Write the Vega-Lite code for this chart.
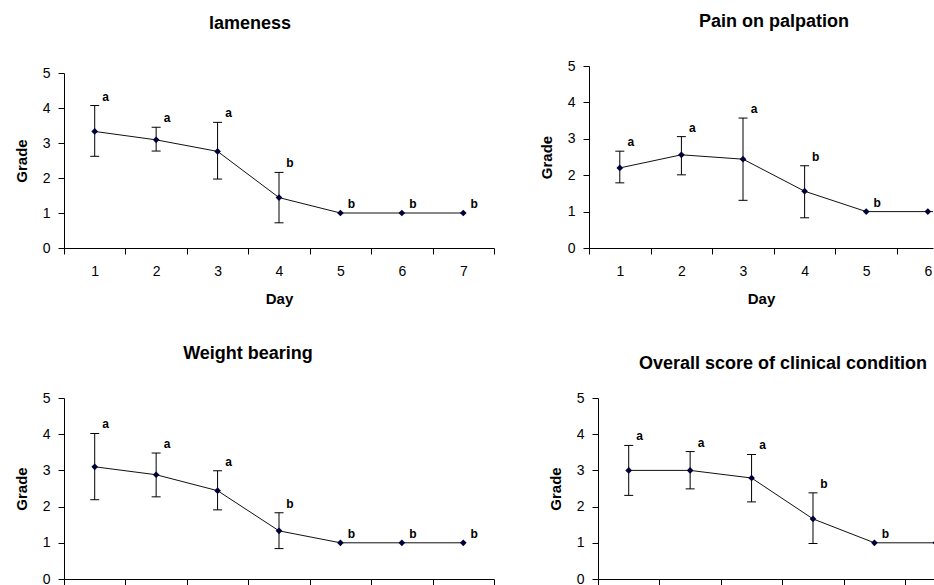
{
  "$schema": "https://vega.github.io/schema/vega-lite/v6.json",
  "padding": {"left": 14, "top": 13, "right": 0, "bottom": 0},
  "background": "#ffffff",
  "datasets": {
    "scores": [
      {"panel": "lameness", "day": 1, "mean": 3.33, "lo": 2.62, "hi": 4.07, "letter": "a"},
      {"panel": "lameness", "day": 2, "mean": 3.09, "lo": 2.77, "hi": 3.45, "letter": "a"},
      {"panel": "lameness", "day": 3, "mean": 2.76, "lo": 1.97, "hi": 3.59, "letter": "a"},
      {"panel": "lameness", "day": 4, "mean": 1.44, "lo": 0.72, "hi": 2.16, "letter": "b"},
      {"panel": "lameness", "day": 5, "mean": 1.0, "lo": 1.0, "hi": 1.0, "letter": "b"},
      {"panel": "lameness", "day": 6, "mean": 1.0, "lo": 1.0, "hi": 1.0, "letter": "b"},
      {"panel": "lameness", "day": 7, "mean": 1.0, "lo": 1.0, "hi": 1.0, "letter": "b"},
      {"panel": "pain", "day": 1, "mean": 2.2, "lo": 1.79, "hi": 2.66, "letter": "a"},
      {"panel": "pain", "day": 2, "mean": 2.56, "lo": 2.01, "hi": 3.06, "letter": "a"},
      {"panel": "pain", "day": 3, "mean": 2.44, "lo": 1.31, "hi": 3.57, "letter": "a"},
      {"panel": "pain", "day": 4, "mean": 1.56, "lo": 0.83, "hi": 2.26, "letter": "b"},
      {"panel": "pain", "day": 5, "mean": 1.0, "lo": 1.0, "hi": 1.0, "letter": "b"},
      {"panel": "pain", "day": 6, "mean": 1.0, "lo": 1.0, "hi": 1.0, "letter": "b"},
      {"panel": "pain", "day": 7, "mean": 1.0, "lo": 1.0, "hi": 1.0, "letter": "b"},
      {"panel": "weight", "day": 1, "mean": 3.1, "lo": 2.19, "hi": 4.02, "letter": "a"},
      {"panel": "weight", "day": 2, "mean": 2.88, "lo": 2.27, "hi": 3.48, "letter": "a"},
      {"panel": "weight", "day": 3, "mean": 2.44, "lo": 1.91, "hi": 2.99, "letter": "a"},
      {"panel": "weight", "day": 4, "mean": 1.33, "lo": 0.84, "hi": 1.83, "letter": "b"},
      {"panel": "weight", "day": 5, "mean": 1.0, "lo": 1.0, "hi": 1.0, "letter": "b"},
      {"panel": "weight", "day": 6, "mean": 1.0, "lo": 1.0, "hi": 1.0, "letter": "b"},
      {"panel": "weight", "day": 7, "mean": 1.0, "lo": 1.0, "hi": 1.0, "letter": "b"},
      {"panel": "overall", "day": 1, "mean": 3.0, "lo": 2.31, "hi": 3.69, "letter": "a"},
      {"panel": "overall", "day": 2, "mean": 3.0, "lo": 2.49, "hi": 3.52, "letter": "a"},
      {"panel": "overall", "day": 3, "mean": 2.79, "lo": 2.13, "hi": 3.44, "letter": "a"},
      {"panel": "overall", "day": 4, "mean": 1.66, "lo": 0.98, "hi": 2.38, "letter": "b"},
      {"panel": "overall", "day": 5, "mean": 1.0, "lo": 1.0, "hi": 1.0, "letter": "b"},
      {"panel": "overall", "day": 6, "mean": 1.0, "lo": 1.0, "hi": 1.0, "letter": "b"},
      {"panel": "overall", "day": 7, "mean": 1.0, "lo": 1.0, "hi": 1.0, "letter": "b"}
    ]
  },
  "config": {
    "view": {"stroke": null},
    "font": "Liberation Sans",
    "axis": {
      "grid": false,
      "domainColor": "#000000",
      "tickColor": "#000000",
      "labelColor": "#000000",
      "labelFont": "Liberation Sans",
      "labelFontSize": 14,
      "titleFont": "Liberation Sans",
      "titleFontSize": 15,
      "titleFontWeight": "bold",
      "titleColor": "#000000",
      "tickSize": 6,
      "labelFlush": false,
      "labelOverlap": false,
      "labelBound": false
    },
    "axisY": {"labelPadding": 8, "titlePadding": 13},
    "axisX": {"labelPadding": 10, "titlePadding": 13},
    "title": {"font": "Liberation Sans", "fontSize": 18, "fontWeight": "bold", "color": "#000000", "frame": "group", "anchor": "middle"}
  },
  "vconcat": [
    {
      "hconcat": [
        {
          "title": {"text": "lameness", "offset": 33, "dx": -29},
          "width": 430,
          "height": 182,
          "data": {"name": "scores"},
          "transform": [{"filter": "datum.panel == 'lameness'"}],
          "encoding": {
            "x": {"field": "day", "type": "quantitative", "title": "Day",
              "scale": {"domain": [0.5, 7.5], "nice": false, "zero": false},
              "axis": {"values": [0.5, 1.5, 2.5, 3.5, 4.5, 5.5, 6.5, 7.5], "labelOffset": 30.7, "labelExpr": "datum.value < 7 ? format(datum.value + 0.5, 'd') : ''"}}
          },
          "layer": [
            {"transform": [{"filter": "datum.hi > datum.lo"}], "mark": {"type": "rule", "color": "#000000", "strokeWidth": 1},
             "encoding": {"y": {"field": "lo", "type": "quantitative", "title": "Grade", "scale": {"domain": [0, 5], "nice": false, "range": [182, 7]}, "axis": {"values": [0, 1, 2, 3, 4, 5]}}, "y2": {"field": "hi"}}},
            {"transform": [{"filter": "datum.hi > datum.lo"}], "mark": {"type": "tick", "orient": "horizontal", "size": 9, "thickness": 1, "color": "#000000", "opacity": 1},
             "encoding": {"y": {"field": "hi", "type": "quantitative", "title": "Grade", "scale": {"domain": [0, 5], "nice": false, "range": [182, 7]}, "axis": {"values": [0, 1, 2, 3, 4, 5]}}}},
            {"transform": [{"filter": "datum.hi > datum.lo"}], "mark": {"type": "tick", "orient": "horizontal", "size": 9, "thickness": 1, "color": "#000000", "opacity": 1},
             "encoding": {"y": {"field": "lo", "type": "quantitative", "title": "Grade", "scale": {"domain": [0, 5], "nice": false, "range": [182, 7]}, "axis": {"values": [0, 1, 2, 3, 4, 5]}}}},
            {"mark": {"type": "line", "color": "#111111", "strokeWidth": 1},
             "encoding": {"y": {"field": "mean", "type": "quantitative", "title": "Grade", "scale": {"domain": [0, 5], "nice": false, "range": [182, 7]}, "axis": {"values": [0, 1, 2, 3, 4, 5]}}}},
            {"mark": {"type": "point", "shape": "diamond", "filled": true, "color": "#00003a", "size": 45, "opacity": 1},
             "encoding": {"y": {"field": "mean", "type": "quantitative", "title": "Grade", "scale": {"domain": [0, 5], "nice": false, "range": [182, 7]}, "axis": {"values": [0, 1, 2, 3, 4, 5]}}}},
            {"mark": {"type": "text", "dx": 11, "dy": -9, "fontWeight": "bold", "fontSize": 12, "color": "#000000"},
             "encoding": {"y": {"field": "hi", "type": "quantitative", "title": "Grade", "scale": {"domain": [0, 5], "nice": false, "range": [182, 7]}, "axis": {"values": [0, 1, 2, 3, 4, 5]}}, "text": {"field": "letter"}}}
          ]
        },
        {
          "title": {"text": "Pain on palpation", "offset": 28, "dx": 13},
          "width": 344,
          "height": 182,
          "data": {"name": "scores"},
          "transform": [{"filter": "datum.panel == 'pain'"}],
          "encoding": {
            "x": {"field": "day", "type": "quantitative", "title": "Day",
              "scale": {"domain": [0.5, 6.084], "nice": false, "zero": false},
              "axis": {"values": [0.5, 1.5, 2.5, 3.5, 4.5, 5.5], "labelOffset": 30.8, "labelExpr": "format(datum.value + 0.5, 'd')"}}
          },
          "layer": [
            {"transform": [{"filter": "datum.hi > datum.lo"}], "mark": {"type": "rule", "color": "#000000", "strokeWidth": 1, "clip": true},
             "encoding": {"y": {"field": "lo", "type": "quantitative", "title": "Grade", "scale": {"domain": [0, 5], "nice": false}, "axis": {"values": [0, 1, 2, 3, 4, 5]}}, "y2": {"field": "hi"}}},
            {"transform": [{"filter": "datum.hi > datum.lo"}], "mark": {"type": "tick", "orient": "horizontal", "size": 9, "thickness": 1, "color": "#000000", "opacity": 1, "clip": true},
             "encoding": {"y": {"field": "hi", "type": "quantitative", "title": "Grade", "scale": {"domain": [0, 5], "nice": false}, "axis": {"values": [0, 1, 2, 3, 4, 5]}}}},
            {"transform": [{"filter": "datum.hi > datum.lo"}], "mark": {"type": "tick", "orient": "horizontal", "size": 9, "thickness": 1, "color": "#000000", "opacity": 1, "clip": true},
             "encoding": {"y": {"field": "lo", "type": "quantitative", "title": "Grade", "scale": {"domain": [0, 5], "nice": false}, "axis": {"values": [0, 1, 2, 3, 4, 5]}}}},
            {"mark": {"type": "line", "color": "#111111", "strokeWidth": 1, "clip": true},
             "encoding": {"y": {"field": "mean", "type": "quantitative", "title": "Grade", "scale": {"domain": [0, 5], "nice": false}, "axis": {"values": [0, 1, 2, 3, 4, 5]}}}},
            {"mark": {"type": "point", "shape": "diamond", "filled": true, "color": "#00003a", "size": 45, "opacity": 1, "clip": true},
             "encoding": {"y": {"field": "mean", "type": "quantitative", "title": "Grade", "scale": {"domain": [0, 5], "nice": false}, "axis": {"values": [0, 1, 2, 3, 4, 5]}}}},
            {"mark": {"type": "text", "dx": 11, "dy": -9, "fontWeight": "bold", "fontSize": 12, "color": "#000000", "clip": true},
             "encoding": {"y": {"field": "hi", "type": "quantitative", "title": "Grade", "scale": {"domain": [0, 5], "nice": false}, "axis": {"values": [0, 1, 2, 3, 4, 5]}}, "text": {"field": "letter"}}}
          ]
        }
      ],
      "spacing": 14
    },
    {
      "bounds": "flush",
      "hconcat": [
        {
          "title": {"text": "Weight bearing", "offset": 28, "dx": -31},
          "width": 430,
          "height": 181,
          "data": {"name": "scores"},
          "transform": [{"filter": "datum.panel == 'weight'"}],
          "encoding": {
            "x": {"field": "day", "type": "quantitative", "title": null,
              "scale": {"domain": [0.5, 7.5], "nice": false, "zero": false},
              "axis": {"values": [0.5, 1.5, 2.5, 3.5, 4.5, 5.5, 6.5, 7.5], "labels": false}}
          },
          "layer": [
            {"transform": [{"filter": "datum.hi > datum.lo"}], "mark": {"type": "rule", "color": "#000000", "strokeWidth": 1},
             "encoding": {"y": {"field": "lo", "type": "quantitative", "title": "Grade", "scale": {"domain": [0, 5], "nice": false}, "axis": {"values": [0, 1, 2, 3, 4, 5]}}, "y2": {"field": "hi"}}},
            {"transform": [{"filter": "datum.hi > datum.lo"}], "mark": {"type": "tick", "orient": "horizontal", "size": 9, "thickness": 1, "color": "#000000", "opacity": 1},
             "encoding": {"y": {"field": "hi", "type": "quantitative", "title": "Grade", "scale": {"domain": [0, 5], "nice": false}, "axis": {"values": [0, 1, 2, 3, 4, 5]}}}},
            {"transform": [{"filter": "datum.hi > datum.lo"}], "mark": {"type": "tick", "orient": "horizontal", "size": 9, "thickness": 1, "color": "#000000", "opacity": 1},
             "encoding": {"y": {"field": "lo", "type": "quantitative", "title": "Grade", "scale": {"domain": [0, 5], "nice": false}, "axis": {"values": [0, 1, 2, 3, 4, 5]}}}},
            {"mark": {"type": "line", "color": "#111111", "strokeWidth": 1},
             "encoding": {"y": {"field": "mean", "type": "quantitative", "title": "Grade", "scale": {"domain": [0, 5], "nice": false}, "axis": {"values": [0, 1, 2, 3, 4, 5]}}}},
            {"mark": {"type": "point", "shape": "diamond", "filled": true, "color": "#00003a", "size": 45, "opacity": 1},
             "encoding": {"y": {"field": "mean", "type": "quantitative", "title": "Grade", "scale": {"domain": [0, 5], "nice": false}, "axis": {"values": [0, 1, 2, 3, 4, 5]}}}},
            {"mark": {"type": "text", "dx": 11, "dy": -9, "fontWeight": "bold", "fontSize": 12, "color": "#000000"},
             "encoding": {"y": {"field": "hi", "type": "quantitative", "title": "Grade", "scale": {"domain": [0, 5], "nice": false}, "axis": {"values": [0, 1, 2, 3, 4, 5]}}, "text": {"field": "letter"}}}
          ]
        },
        {
          "title": {"text": "Overall score of clinical condition", "offset": 18, "dx": 17},
          "width": 336,
          "height": 181,
          "data": {"name": "scores"},
          "transform": [{"filter": "datum.panel == 'overall'"}],
          "encoding": {
            "x": {"field": "day", "type": "quantitative", "title": null,
              "scale": {"domain": [0.5, 5.97], "nice": false, "zero": false},
              "axis": {"values": [0.5, 1.5, 2.5, 3.5, 4.5, 5.5], "labels": false}}
          },
          "layer": [
            {"transform": [{"filter": "datum.hi > datum.lo"}], "mark": {"type": "rule", "color": "#000000", "strokeWidth": 1, "clip": true},
             "encoding": {"y": {"field": "lo", "type": "quantitative", "title": "Grade", "scale": {"domain": [0, 5], "nice": false}, "axis": {"values": [0, 1, 2, 3, 4, 5]}}, "y2": {"field": "hi"}}},
            {"transform": [{"filter": "datum.hi > datum.lo"}], "mark": {"type": "tick", "orient": "horizontal", "size": 9, "thickness": 1, "color": "#000000", "opacity": 1, "clip": true},
             "encoding": {"y": {"field": "hi", "type": "quantitative", "title": "Grade", "scale": {"domain": [0, 5], "nice": false}, "axis": {"values": [0, 1, 2, 3, 4, 5]}}}},
            {"transform": [{"filter": "datum.hi > datum.lo"}], "mark": {"type": "tick", "orient": "horizontal", "size": 9, "thickness": 1, "color": "#000000", "opacity": 1, "clip": true},
             "encoding": {"y": {"field": "lo", "type": "quantitative", "title": "Grade", "scale": {"domain": [0, 5], "nice": false}, "axis": {"values": [0, 1, 2, 3, 4, 5]}}}},
            {"mark": {"type": "line", "color": "#111111", "strokeWidth": 1, "clip": true},
             "encoding": {"y": {"field": "mean", "type": "quantitative", "title": "Grade", "scale": {"domain": [0, 5], "nice": false}, "axis": {"values": [0, 1, 2, 3, 4, 5]}}}},
            {"mark": {"type": "point", "shape": "diamond", "filled": true, "color": "#00003a", "size": 45, "opacity": 1, "clip": true},
             "encoding": {"y": {"field": "mean", "type": "quantitative", "title": "Grade", "scale": {"domain": [0, 5], "nice": false}, "axis": {"values": [0, 1, 2, 3, 4, 5]}}}},
            {"mark": {"type": "text", "dx": 11, "dy": -9, "fontWeight": "bold", "fontSize": 12, "color": "#000000", "clip": true},
             "encoding": {"y": {"field": "hi", "type": "quantitative", "title": "Grade", "scale": {"domain": [0, 5], "nice": false}, "axis": {"values": [0, 1, 2, 3, 4, 5]}}, "text": {"field": "letter"}}}
          ]
        }
      ],
      "spacing": 104
    }
  ],
  "spacing": 39
}
